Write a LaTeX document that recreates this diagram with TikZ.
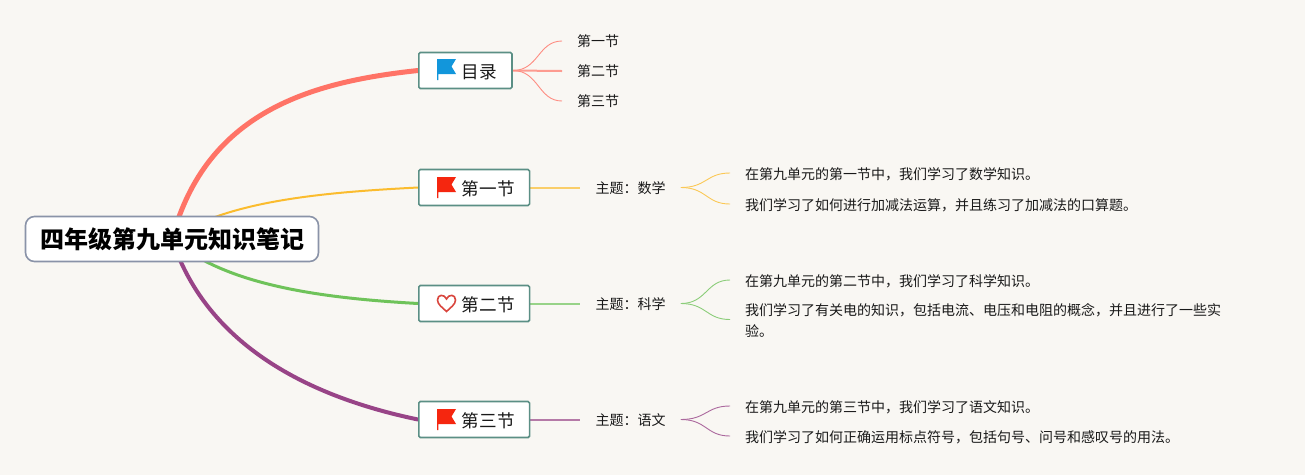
\documentclass[tikz,border=0pt]{standalone}
\usepackage{xcolor}
\usepackage{fontspec}
\setmainfont{Noto Sans CJK SC}
\usepackage{tikz}
\usetikzlibrary{positioning,backgrounds,calc}
\definecolor{paperbg}{HTML}{F9F7F3}
\definecolor{boxedge}{HTML}{5B8F85}
\definecolor{rootedge}{HTML}{8A93A8}
\definecolor{mapred}{HTML}{FF7366}
\definecolor{mapyellow}{HTML}{FBBC2E}
\definecolor{mapgreen}{HTML}{6FC35A}
\definecolor{mappurple}{HTML}{984487}
\definecolor{flagblue}{HTML}{1296DB}
\definecolor{flagred}{HTML}{F5260F}
\definecolor{heartred}{HTML}{D9463E}
\tikzset{
  map/root/.style={draw=rootedge, line width=1.6pt, fill=white, rounded corners=9pt, minimum width=293pt, minimum height=45pt, inner sep=0pt, font=\fontsize{24}{28}\selectfont\bfseries, text=black},
  map/section/.style={draw=boxedge, line width=1.6pt, fill=white, rounded corners=1.5pt, minimum height=36pt, inner xsep=15pt, inner ysep=0pt, anchor=west, text height=16pt, text depth=1pt, font=\fontsize{17.6}{22}\selectfont, text=black!90, execute at begin node=\hspace*{28pt}},
  map/topic/.style={inner xsep=15pt, inner ysep=2pt, yshift=-1pt, font=\fontsize{14}{21}\selectfont, text=black!90},
  map/leaf/.style={inner xsep=15pt, inner ysep=2pt, align=left, anchor=west, font=\fontsize{14}{21}\selectfont, text=black!90},
  map/main/.style={line width=#1, line cap=round},
  map/sub/.style={draw=#1!70!paperbg, line width=2pt},
  map/twig/.style={draw=#1!80!paperbg, line width=0.9pt},
  pics/secflag/.style={code={
    \fill[#1] (-9.5,-10.5) -- (9.5,-10.5) -- (5,-3) -- (9.5,4.5) -- (-8,4.5) -- (-8.2,10.5) -- (-9.5,10.5) -- cycle;
  }},
  pics/secheart/.style={code={
    \draw[#1, line width=1.6pt] (0,8) .. controls (-4,4) and (-9,1) .. (-9,-3.5) .. controls (-9,-9.5) and (-2,-9.5) .. (0,-4.5) .. controls (2,-9.5) and (9,-9.5) .. (9,-3.5) .. controls (9,1) and (4,4) .. (0,8) -- cycle;
  }}
}
\newcommand{\twigs}[3]{\draw[map/twig=#1] ($(#2.east)+(0,-1)$) .. controls +(26,0) and +(-24,0) .. ($(#3.west)+(0,-1)$);}
\begin{document}
\begin{tikzpicture}[x=1pt,y=-1pt]
  \useasboundingbox (0,0) rectangle (1305,475);
  \node[map/root] (root) at (172,239) {四年级第九单元知识笔记};

  \node[map/section] (mulu) at (418,70.5) {目录};
  \node[map/section] (sec1) at (418,187.5) {第一节};
  \node[map/section] (sec2) at (418,303.5) {第二节};
  \node[map/section] (sec3) at (418,419.5) {第三节};

  % icons
  \pic at ($(mulu.west)+(28.5,-1)$) {secflag=flagblue};
  \pic at ($(sec1.west)+(28.5,0)$) {secflag=flagred};
  \pic at ($(sec2.west)+(28.5,0)$) {secheart=heartred};
  \pic at ($(sec3.west)+(28.5,0)$) {secflag=flagred};

  % contents
  \node[map/leaf] (mulu1) at (562,41) {第一节};
  \node[map/leaf] (mulu2) at (562,71) {第二节};
  \node[map/leaf] (mulu3) at (562,101) {第三节};

  \node[map/topic, right=50pt of sec1] (topic1) {主题：数学};
  \node[map/topic] (topic2) at (topic1 |- sec2) {主题：科学};
  \node[map/topic] (topic3) at (topic1 |- sec3) {主题：语文};

  \node[map/leaf] (leaf11) at (730,174) {在第九单元的第一节中，我们学习了数学知识。};
  \node[map/leaf] (leaf12) at (730,205) {我们学习了如何进行加减法运算，并且练习了加减法的口算题。};
  \node[map/leaf] (leaf21) at (730,281) {在第九单元的第二节中，我们学习了科学知识。};
  \node[map/leaf] (leaf22) at (730,320.5) {我们学习了有关电的知识，包括电流、电压和电阻的概念，并且进行了一些实\\验。};
  \node[map/leaf] (leaf31) at (730,407) {在第九单元的第三节中，我们学习了语文知识。};
  \node[map/leaf] (leaf32) at (730,437) {我们学习了如何正确运用标点符号，包括句号、问号和感叹号的用法。};

  \begin{scope}[on background layer]
    \fill[paperbg] (0,0) rectangle (1305,475);
    \draw[map/main=5pt, mapred] (root.center) .. controls (206,112) and (310,82) .. (mulu.west);
    \draw[map/main=2pt, mapyellow] (root.center) .. controls (225,200) and (330,192) .. (sec1.west);
    \draw[map/main=3pt, mapgreen] (root.center) .. controls (225,285) and (320,298) .. (sec2.west);
    \draw[map/main=4pt, mappurple] (root.center) .. controls (205,340) and (300,395) .. (sec3.west);

    \draw[map/twig=mapred] (mulu.east) .. controls +(26,0) and +(-24,0) .. (mulu1.west);
    \draw[map/sub=mapred] (mulu.east) -- (mulu2.west);
    \draw[map/twig=mapred] (mulu.east) .. controls +(26,0) and +(-24,0) .. (mulu3.west);

    \draw[map/sub=mapyellow] (sec1.east) -- (sec1.east -| topic1.west);
    \draw[map/sub=mapgreen] (sec2.east) -- (sec2.east -| topic2.west);
    \draw[map/sub=mappurple] (sec3.east) -- (sec3.east -| topic3.west);

    \twigs{mapyellow}{topic1}{leaf11}
    \twigs{mapyellow}{topic1}{leaf12}
    \twigs{mapgreen}{topic2}{leaf21}
    \twigs{mapgreen}{topic2}{leaf22}
    \twigs{mappurple}{topic3}{leaf31}
    \twigs{mappurple}{topic3}{leaf32}
  \end{scope}
\end{tikzpicture}
\end{document}
